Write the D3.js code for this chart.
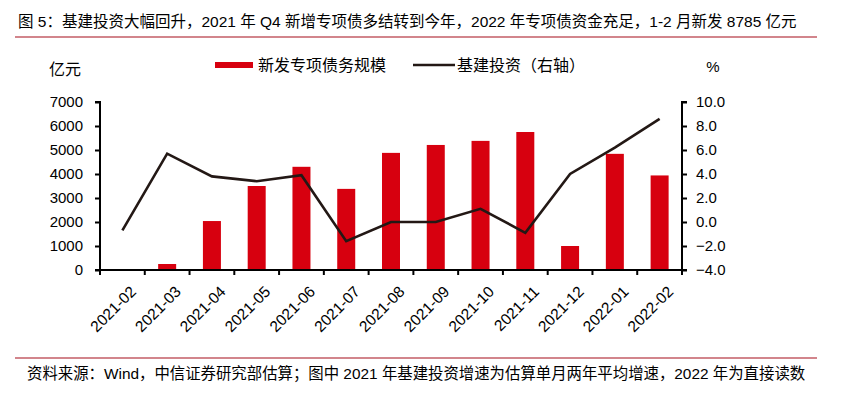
<!DOCTYPE html>
<html>
<head>
<meta charset="utf-8">
<script src="https://cdn.jsdelivr.net/npm/d3@7"></script>
<style>
  body { margin: 0; background: #fff; }
  svg { display: block; font-family: "Liberation Sans", Arial, "Noto Sans CJK SC", sans-serif; }
  .cjk { font-family: "Liberation Sans", "Noto Sans CJK SC", sans-serif; }
</style>
</head>
<body>
<svg id="chart" width="844" height="404"></svg>
<script>
// data
const months = ["2021-02", "2021-03", "2021-04", "2021-05", "2021-06", "2021-07", "2021-08",
  "2021-09", "2021-10", "2021-11", "2021-12", "2022-01", "2022-02"];
const bondIssue = [0, 250, 2040, 3500, 4300, 3380, 4880, 5210, 5380, 5750, 1000, 4840, 3940];
const infraGrowth = [-0.7, 5.7, 3.8, 3.4, 3.9, -1.6, 0.0, 0.0, 1.1, -0.9, 4.0, 6.2, 8.6];
const leftTicks = [0, 1000, 2000, 3000, 4000, 5000, 6000, 7000];
const rightTicks = [-4, -2, 0, 2, 4, 6, 8, 10];

const titleText = "图 5：基建投资大幅回升，2021 年 Q4 新增专项债多结转到今年，2022 年专项债资金充足，1-2 月新发 8785 亿元";
const noteText = "资料来源：Wind，中信证券研究部估算；图中 2021 年基建投资增速为估算单月两年平均增速，2022 年为直接读数";

const red = "#d7000f";
const dark = "#231815";

let svg = d3.select("#chart");

let plotL = 100, plotR = 682, plotT = 102, plotB = 270;

let xb = d3.scaleBand().domain(months).range([plotL, plotR]);
let yL = d3.scaleLinear().domain([0, 7000]).range([plotB, plotT]);
let yR = d3.scaleLinear().domain([-4, 10]).range([plotB, plotT]);

// title + rules
svg.append("text").attr("class", "cjk")
  .attr("x", 18).attr("y", 27)
  .attr("font-size", 15.5).attr("fill", "#000")
  .text(titleText);
svg.append("line").attr("x1", 15).attr("x2", 817).attr("y1", 37).attr("y2", 37)
  .attr("stroke", "#a50d1a").attr("stroke-width", 1.2);

svg.append("line").attr("x1", 15).attr("x2", 817).attr("y1", 358).attr("y2", 358)
  .attr("stroke", "#a50d1a").attr("stroke-width", 1.2);
svg.append("text").attr("class", "cjk")
  .attr("x", 27).attr("y", 379)
  .attr("font-size", 15.4).attr("fill", "#000")
  .text(noteText);

// bars
svg.append("g").selectAll("rect")
  .data(months)
  .enter()
  .append("rect")
  .attr("x", function(d) { return xb(d) + (xb.bandwidth() - 18) / 2; })
  .attr("width", 18)
  .attr("y", function(d, i) { return yL(bondIssue[i]); })
  .attr("height", function(d, i) { return yL(0) - yL(bondIssue[i]); })
  .attr("fill", red);

// line
let line = d3.line()
  .x(function(d, i) { return xb(months[i]) + xb.bandwidth() / 2; })
  .y(function(d) { return yR(d); });
svg.append("path")
  .datum(infraGrowth)
  .attr("d", line)
  .attr("fill", "none")
  .attr("stroke", dark)
  .attr("stroke-width", 2.6)
  .attr("stroke-linejoin", "miter");

// left axis
let axL = svg.append("g").attr("transform", "translate(" + plotL + ",0)")
  .call(d3.axisLeft(yL).tickValues(leftTicks).tickSize(5).tickPadding(12).tickFormat(d3.format("d")));
// right axis
let axR = svg.append("g").attr("transform", "translate(" + plotR + ",0)")
  .call(d3.axisRight(yR).tickValues(rightTicks).tickSize(5).tickPadding(9).tickFormat(d3.format(".1f")));
// x axis with ticks between categories
let axX = svg.append("g").attr("transform", "translate(0," + plotB + ")")
  .call(d3.axisBottom(xb).tickSize(0).tickPadding(0));
axX.selectAll(".tick").remove();

let boundaries = d3.range(months.length + 1).map(function(i) { return plotL + i * xb.step(); });
axX.selectAll(".sep").data(boundaries).enter().append("line")
  .attr("class", "sep")
  .attr("x1", function(d) { return d; }).attr("x2", function(d) { return d; })
  .attr("y1", 0).attr("y2", 5)
  .attr("stroke", "#000").attr("stroke-width", 2);

axX.selectAll(".lbl").data(months).enter().append("text")
  .attr("class", "lbl")
  .attr("transform", function(d) {
    return "translate(" + (xb(d) + xb.bandwidth() / 2 + 7) + ",15) rotate(-45)";
  })
  .attr("text-anchor", "end")
  .attr("dy", "0.7em")
  .attr("font-size", 15.5)
  .attr("fill", "#000")
  .text(function(d) { return d; });

[axL, axR, axX].forEach(function(a) {
  a.select(".domain").attr("stroke", "#000").attr("stroke-width", 2);
  a.selectAll(".tick line").attr("stroke", "#000").attr("stroke-width", 2);
  a.selectAll(".tick text").attr("font-size", 15).attr("fill", "#000")
    .attr("font-family", "'Liberation Sans', Arial, sans-serif");
});
axL.select(".domain").attr("d", "M-5," + plotT + "H0V" + plotB + "H-5");
axR.select(".domain").attr("d", "M5," + plotT + "H0V" + plotB + "H5");
axX.select(".domain").attr("d", "M" + plotL + ",0H" + plotR);

// unit labels
svg.append("text").attr("class", "cjk").attr("x", 49).attr("y", 75)
  .attr("font-size", 16).text("亿元");
svg.append("text").attr("x", 713).attr("y", 72).attr("text-anchor", "middle")
  .attr("font-size", 15).text("%");

// legend
let lg = svg.append("g");
lg.append("rect").attr("x", 215).attr("y", 62).attr("width", 38).attr("height", 6).attr("fill", red);
lg.append("text").attr("class", "cjk").attr("x", 258).attr("y", 71).attr("font-size", 16).text("新发专项债务规模");
lg.append("line").attr("x1", 413).attr("x2", 455).attr("y1", 65).attr("y2", 65)
  .attr("stroke", dark).attr("stroke-width", 2.6);
lg.append("text").attr("class", "cjk").attr("x", 457).attr("y", 71).attr("font-size", 16).text("基建投资（右轴）");
</script>
</body>
</html>
